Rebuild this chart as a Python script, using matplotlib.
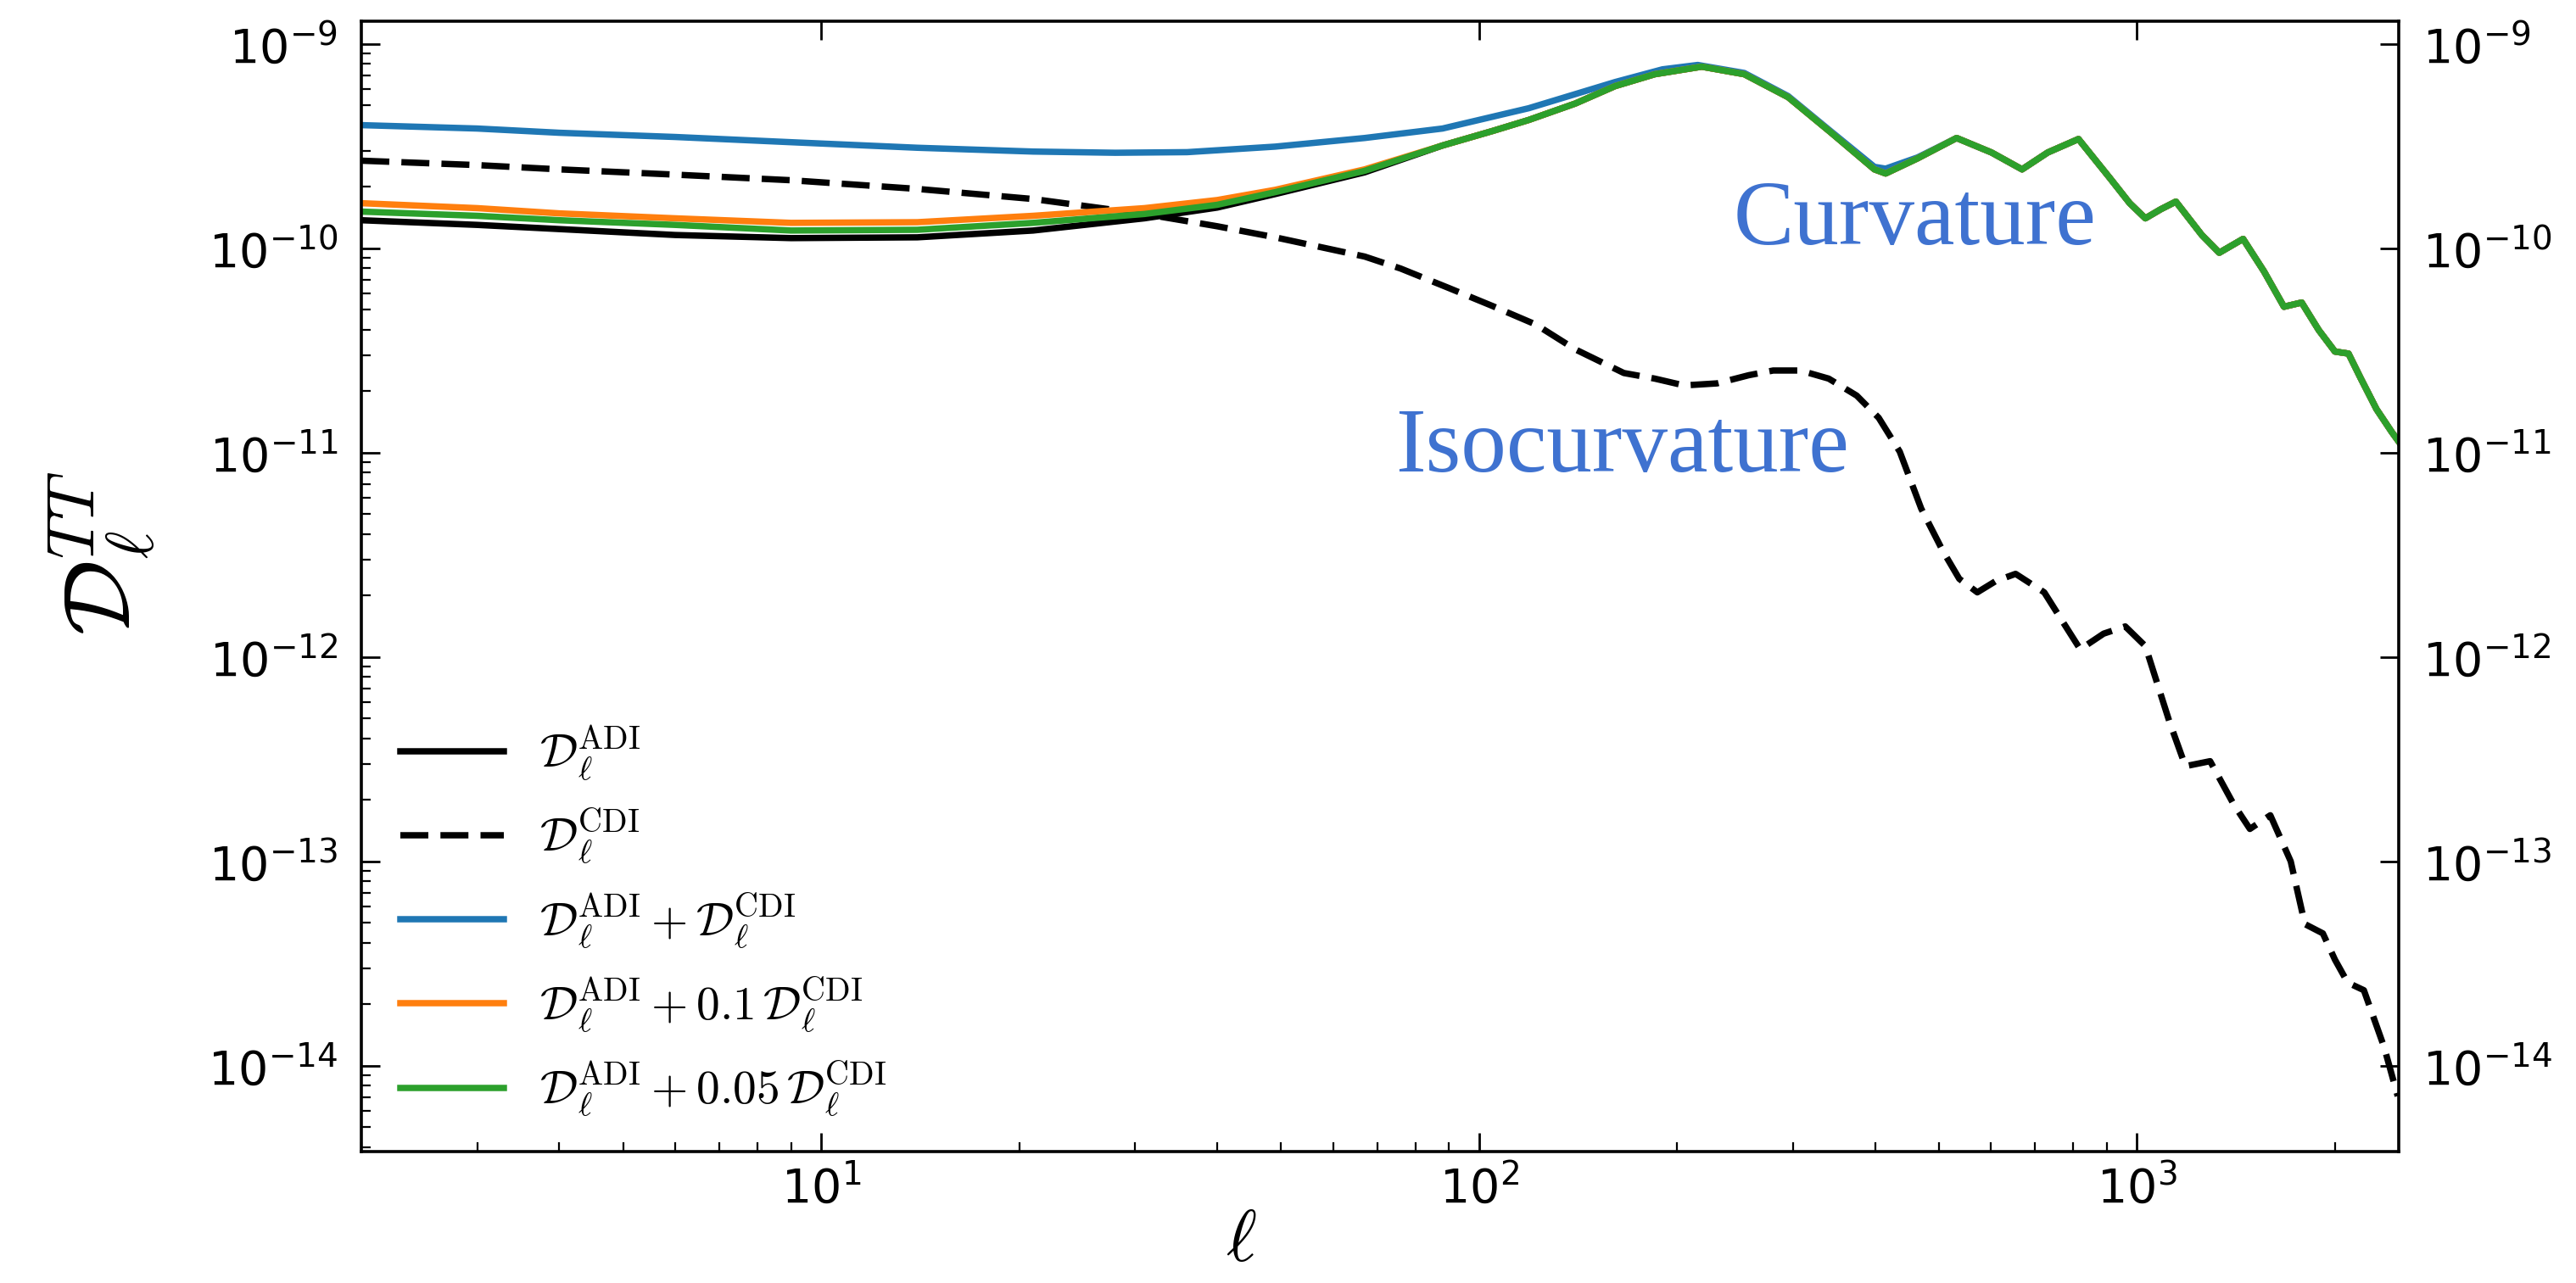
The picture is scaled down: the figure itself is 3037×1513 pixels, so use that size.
import matplotlib
matplotlib.use("Agg")
import matplotlib.pyplot as plt
from matplotlib.ticker import LogLocator, NullFormatter

# ---------------- data ----------------
# high-ell part shared by all adiabatic-dominated curves
ell_tail = [88, 105, 119, 140, 161, 185, 218, 253, 295, 343, 399, 415, 464, 532,
            601, 669, 732, 815, 910, 975, 1030, 1087, 1146, 1255, 1334, 1450,
            1560, 1673, 1780, 1890, 2000, 2097, 2190, 2313, 2440, 2548]
D_tail = [3.18e-10, 3.75e-10, 4.24e-10, 5.1e-10, 6.21e-10, 7.1e-10, 7.73e-10,
          7.10e-10, 5.48e-10, 3.67e-10, 2.43e-10, 2.32e-10, 2.75e-10, 3.46e-10,
          2.94e-10, 2.43e-10, 2.94e-10, 3.42e-10, 2.2e-10, 1.66e-10, 1.40e-10,
          1.55e-10, 1.69e-10, 1.16e-10, 9.5e-11, 1.11e-10, 7.7e-11, 5.17e-11,
          5.42e-11, 3.97e-11, 3.12e-11, 3.05e-11, 2.3e-11, 1.63e-11, 1.26e-11,
          1.04e-11]

ell_low = [2, 3, 4, 6, 9, 14, 21, 31, 40, 49, 67]
D_adi_low = [1.37e-10, 1.30e-10, 1.24e-10, 1.16e-10, 1.12e-10, 1.13e-10,
             1.22e-10, 1.40e-10, 1.58e-10, 1.84e-10, 2.35e-10]
D_005_low = [1.51e-10, 1.44e-10, 1.37e-10, 1.30e-10, 1.22e-10, 1.23e-10,
             1.33e-10, 1.47e-10, 1.63e-10, 1.88e-10, 2.39e-10]
D_01_low = [1.66e-10, 1.57e-10, 1.48e-10, 1.40e-10, 1.33e-10, 1.34e-10,
            1.44e-10, 1.57e-10, 1.72e-10, 1.93e-10, 2.43e-10]

ell_blue = [2, 3, 4, 6, 9, 14, 21, 28, 36, 49, 67, 88, 119, 161, 190, 215, 253,
            295, 343, 399, 415, 464]
D_blue = [4.0e-10, 3.85e-10, 3.67e-10, 3.5e-10, 3.3e-10, 3.1e-10, 2.97e-10,
          2.93e-10, 2.95e-10, 3.14e-10, 3.46e-10, 3.85e-10, 4.84e-10, 6.50e-10,
          7.5e-10, 7.88e-10, 7.2e-10, 5.55e-10, 3.72e-10, 2.5e-10, 2.45e-10,
          2.78e-10]

ell_cdi = [2, 3, 4, 6, 9, 14, 21, 31, 40, 49, 67, 76, 90, 105, 122, 140, 166,
           185, 205, 230, 257, 280, 308, 340, 375, 405, 436, 470, 507, 537, 572,
           610, 654, 723, 770, 820, 890, 960, 1030, 1120, 1185, 1292, 1403, 1485,
           1595, 1713, 1800, 1917, 2000, 2091, 2213, 2376, 2491]
D_cdi = [2.68e-10, 2.55e-10, 2.43e-10, 2.29e-10, 2.15e-10, 1.95e-10, 1.74e-10,
         1.47e-10, 1.28e-10, 1.13e-10, 9.1e-11, 7.95e-11, 6.38e-11, 5.2e-11,
         4.23e-11, 3.2e-11, 2.45e-11, 2.3e-11, 2.13e-11, 2.18e-11, 2.39e-11,
         2.52e-11, 2.52e-11, 2.3e-11, 1.90e-11, 1.48e-11, 1.01e-11, 5.32e-12,
         3.30e-12, 2.41e-12, 2.07e-12, 2.35e-12, 2.55e-12, 2.07e-12, 1.5e-12,
         1.09e-12, 1.3e-12, 1.41e-12, 1.13e-12, 4.84e-13, 2.92e-13, 3.09e-13,
         1.90e-13, 1.44e-13, 1.68e-13, 1.0e-13, 4.93e-14, 4.44e-14, 3.3e-14,
         2.55e-14, 2.34e-14, 1.23e-14, 7.1e-15]

labels = [r'$\mathcal{D}_\ell^{\rm ADI}$',
          r'$\mathcal{D}_\ell^{\rm CDI}$',
          r'$\mathcal{D}_\ell^{\rm ADI}+\mathcal{D}_\ell^{\rm CDI}$',
          r'$\mathcal{D}_\ell^{\rm ADI}+0.1\,\mathcal{D}_\ell^{\rm CDI}$',
          r'$\mathcal{D}_\ell^{\rm ADI}+0.05\,\mathcal{D}_\ell^{\rm CDI}$']

# ---------------- figure ----------------
W, H = 3037, 1513
fig = plt.figure(figsize=(W / 100, H / 100), dpi=100)
ax = fig.add_axes([426 / W, 1 - 1358 / H, (2828 - 426) / W, (1358 - 25) / H])

lw = 5.4
i_blue = ell_tail.index(532)
ax.plot(ell_low + ell_tail, D_adi_low + D_tail, color='black', lw=lw,
        label=labels[0], solid_joinstyle='round')
ax.plot(ell_cdi, D_cdi, color='black', lw=lw, ls=(0, (4.4, 1.9)), label=labels[1])
ax.plot(ell_blue + ell_tail[i_blue:], D_blue + D_tail[i_blue:],
        color='#1f77b4', lw=lw, label=labels[2], solid_joinstyle='round')
ax.plot(ell_low + ell_tail, D_01_low + D_tail, color='#ff7f0e', lw=lw,
        label=labels[3], solid_joinstyle='round')
ax.plot(ell_low + ell_tail, D_005_low + D_tail, color='#2ca02c', lw=lw,
        label=labels[4], solid_joinstyle='round')

ax.set_xscale('log')
ax.set_yscale('log')
ax.set_xlim(2, 2500)
ax.set_ylim(3.8e-15, 1.29e-9)

ax.yaxis.set_major_locator(LogLocator(base=10, numticks=20))
ax.yaxis.set_minor_locator(LogLocator(base=10, subs=range(2, 10), numticks=50))
ax.yaxis.set_minor_formatter(NullFormatter())

for s in ax.spines.values():
    s.set_linewidth(2.6)

ax.tick_params(which='major', direction='in', length=16, width=2.0,
               top=True, right=True, labelright=True, labelsize=40)
ax.tick_params(which='minor', direction='in', length=8, width=1.6,
               top=False, right=False)
ax.tick_params(axis='y', which='major', pad=20)
ax.tick_params(axis='x', which='major', pad=12)

leg = ax.legend(loc='upper left', bbox_to_anchor=(0.019, 0.379), frameon=False,
                borderaxespad=0, borderpad=0, handlelength=2.2, handletextpad=0.75,
                labelspacing=0.5,
                prop=dict(size=40, math_fontfamily='cm'))

fig.text(121 / W, 1 - 653 / H, r'$\mathcal{D}_\ell^{TT}$', rotation=90,
         ha='center', va='center', fontsize=80, math_fontfamily='cm')
fig.text(1463 / W, 1 - 1464 / H, r'$\ell$', ha='center', va='center',
         fontsize=62, math_fontfamily='cm')

blue_txt = '#3F72D0'
fig.text(2044 / W, 1 - 288 / H, 'Curvature', ha='left', va='baseline',
         fontsize=77, color=blue_txt, family='Liberation Serif')
fig.text(1645 / W, 1 - 556 / H, 'Isocurvature', ha='left', va='baseline',
         fontsize=77, color=blue_txt, family='Liberation Serif')

fig.savefig('out.png', dpi=100)
